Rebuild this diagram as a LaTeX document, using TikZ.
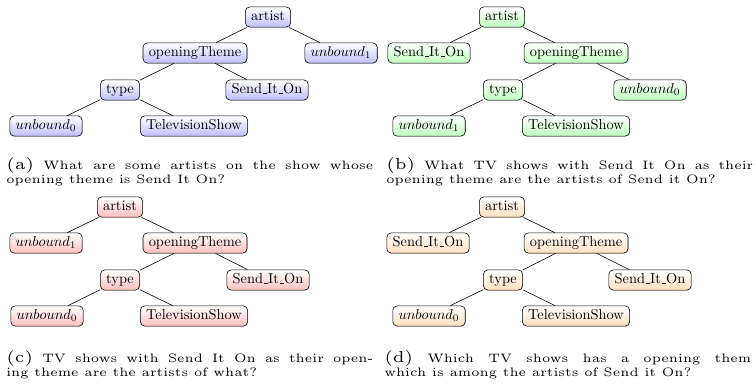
\documentclass[tikz,border=0pt]{standalone}
\usepackage{tikz}
\usepackage{xcolor}
\usetikzlibrary{shadows}
\font\sublabfont=cmr5 at 11pt
\font\capfont=cmr5 at 8.5pt
\newcommand\capstyle{\capfont\baselineskip=9.7pt\relax}
\newcommand\us{\leavevmode\kern.06em\vbox{\hrule width.3em}}

\begin{document}
\begin{tikzpicture}[x=0.6944pt, y=-0.6944pt,
    qnode/.style={draw, thin, rounded corners=3pt, inner xsep=4pt, inner ysep=2.5pt,
      text height=7pt, text depth=2pt, top color=white, bottom color=#1,
      drop shadow={shadow xshift=0.4pt, shadow yshift=-0.4pt, opacity=0.35}},
    qcap/.style={anchor=north west, inner sep=0pt, text width=255pt, align=justify,
      font=\capstyle}]
  \useasboundingbox (0,0) rectangle (756,384);

  % (a) query tree
  \node[qnode=blue!25] (a-artist) at (268,17) {artist};
  \node[qnode=blue!25] (a-theme) at (195,53) {openingTheme};
  \node[qnode=blue!25] (a-unb1) at (341,53) {$unbound_1$};
  \node[qnode=blue!25] (a-type) at (120,90) {type};
  \node[qnode=blue!25] (a-song) at (267,90) {Send\us It\us On};
  \node[qnode=blue!25] (a-unb0) at (46,126) {$unbound_0$};
  \node[qnode=blue!25] (a-show) at (194,126) {TelevisionShow};
  \draw (a-artist) -- (a-theme);
  \draw (a-artist) -- (a-unb1);
  \draw (a-theme) -- (a-type);
  \draw (a-theme) -- (a-song);
  \draw (a-type) -- (a-unb0);
  \draw (a-type) -- (a-show);
  \node[qcap] (a-cap) at (6,157) {{\sublabfont(a)}\ What are some artists on the show whose\linebreak opening theme is Send It On?};

  % (b) query tree
  \node[qnode=green!25] (b-artist) at (502,17) {artist};
  \node[qnode=green!25] (b-song) at (429,53) {Send\us It\us On};
  \node[qnode=green!25] (b-theme) at (576,53) {openingTheme};
  \node[qnode=green!25] (b-type) at (503,90) {type};
  \node[qnode=green!25] (b-unb0) at (650,90) {$unbound_0$};
  \node[qnode=green!25] (b-unb1) at (429,126) {$unbound_1$};
  \node[qnode=green!25] (b-show) at (576,126) {TelevisionShow};
  \draw (b-artist) -- (b-song);
  \draw (b-artist) -- (b-theme);
  \draw (b-theme) -- (b-type);
  \draw (b-theme) -- (b-unb0);
  \draw (b-type) -- (b-unb1);
  \draw (b-type) -- (b-show);
  \node[qcap] (b-cap) at (386,157) {{\sublabfont(b)}\ What TV shows with Send It On as their\linebreak opening theme are the artists of Send it On?};

  % (c) query tree
  \node[qnode=red!25] (c-artist) at (120,207) {artist};
  \node[qnode=red!25] (c-unb1) at (46,243) {$unbound_1$};
  \node[qnode=red!25] (c-theme) at (195,243) {openingTheme};
  \node[qnode=red!25] (c-type) at (120,280) {type};
  \node[qnode=red!25] (c-song) at (268,280) {Send\us It\us On};
  \node[qnode=red!25] (c-unb0) at (47,316) {$unbound_0$};
  \node[qnode=red!25] (c-show) at (194,316) {TelevisionShow};
  \draw (c-artist) -- (c-unb1);
  \draw (c-artist) -- (c-theme);
  \draw (c-theme) -- (c-type);
  \draw (c-theme) -- (c-song);
  \draw (c-type) -- (c-unb0);
  \draw (c-type) -- (c-show);
  \node[qcap] (c-cap) at (6,350) {{\sublabfont(c)}\ TV shows with Send It On as their open-\linebreak ing theme are the artists of what?};

  % (d) query tree
  \node[qnode=orange!25] (d-artist) at (502,207) {artist};
  \node[qnode=orange!25] (d-song) at (428,243) {Send\us It\us On};
  \node[qnode=orange!25] (d-theme) at (576,243) {openingTheme};
  \node[qnode=orange!25] (d-type) at (503,280) {type};
  \node[qnode=orange!25] (d-song2) at (650,280) {Send\us It\us On};
  \node[qnode=orange!25] (d-unb0) at (429,316) {$unbound_0$};
  \node[qnode=orange!25] (d-show) at (576,316) {TelevisionShow};
  \draw (d-artist) -- (d-song);
  \draw (d-artist) -- (d-theme);
  \draw (d-theme) -- (d-type);
  \draw (d-theme) -- (d-song2);
  \draw (d-type) -- (d-unb0);
  \draw (d-type) -- (d-show);
  \node[qcap] (d-cap) at (384,350) {{\sublabfont(d)}\ Which TV shows has a opening them\linebreak which is among the artists of Send it On?};
\end{tikzpicture}
\end{document}
